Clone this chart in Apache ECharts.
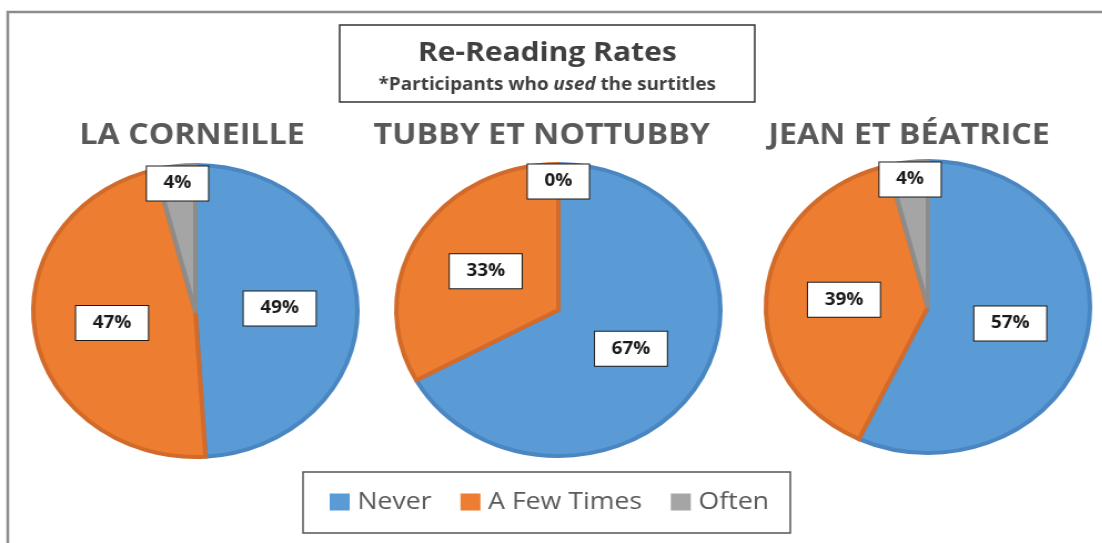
<!DOCTYPE html>
<html>
<head>
<meta charset="utf-8">
<title>Re-Reading Rates</title>
<script src="https://cdn.jsdelivr.net/npm/echarts@6/dist/echarts.min.js"></script>
<style>
  html, body { margin: 0; padding: 0; background: #fff; overflow: hidden; }
  /* the source picture is stretched sideways, so the whole chart is too */
  #main { width: 993px; height: 543px; transform: scaleX(1.11); transform-origin: 0 0; }
</style>
</head>
<body>
<div id="main"></div>
<script>
// data
const categories = ['Never', 'A Few Times', 'Often'];
const plays = ['LA CORNEILLE', 'TUBBY ET NOTTUBBY', 'JEAN ET BÉATRICE'];
const corneille = [49, 47, 4];
const tubby = [67, 33, 0];
const jean = [57, 39, 4];
const playValues = [corneille, tubby, jean];

const fills = ['#5B9BD5', '#ED7D31', '#A5A5A5'];
const borders = ['#4A86C2', '#D26B2A', '#8C8C8C'];
const FONT = '"Open Sans", "DejaVu Sans", sans-serif';

// layout of the three pies (unscaled px)
const centers = [[176, 311], [503, 310], [836, 307]];
const titleX = [173, 488, 819];
const R = 146;

const labelBox = {
  position: 'inside',
  formatter: '{c}%',
  color: '#1a1a1a',
  fontFamily: FONT,
  fontWeight: 'bold',
  fontSize: 17,
  backgroundColor: '#fff',
  borderColor: '#1a1a1a',
  borderWidth: 1,
  padding: [9, 15, 8, 15]
};

let series = [];
playValues.forEach(function (vals, p) {
  // the pie itself
  series.push({
    name: plays[p],
    type: 'pie',
    center: centers[p],
    radius: R,
    startAngle: 90,
    clockwise: true,
    silent: true,
    animation: false,
    label: labelBox,
    labelLine: { show: false },
    data: categories.map(function (c, i) {
      return {
        name: c,
        value: vals[i],
        itemStyle: {
          color: fills[i],
          borderColor: borders[i],
          borderWidth: vals[i] === 0 ? 0 : 4
        },
        label: { show: i !== 2 }
      };
    })
  });
  // see-through ring so the small "Often" label sits near the rim
  series.push({
    name: plays[p] + ' often',
    type: 'pie',
    center: centers[p],
    radius: [R * 0.72, R],
    startAngle: 90,
    clockwise: true,
    silent: true,
    animation: false,
    label: labelBox,
    labelLine: { show: false },
    itemStyle: { color: 'rgba(0,0,0,0)', borderWidth: 0 },
    data: categories.map(function (c, i) {
      return { name: c, value: vals[i], label: { show: i === 2 } };
    })
  });
});

let graphics = [
  // frame (only top and left edges show)
  { type: 'polyline', shape: { points: [[7, 560], [7, 12], [1000, 12]] },
    style: { stroke: '#8c8c8c', lineWidth: 2.5, fill: null } },
  // title box
  { type: 'rect', shape: { x: 306, y: 25, width: 374, height: 77 },
    style: { fill: '#fff', stroke: '#333', lineWidth: 1.5 } },
  { type: 'text', x: 493, y: 53,
    style: { text: 'Re-Reading Rates', align: 'center', verticalAlign: 'middle',
      font: 'bold 27px ' + FONT, fill: '#404040' } },
  { type: 'text', x: 493, y: 85,
    style: { text: '*Participants who {i|used} the surtitles', align: 'center', verticalAlign: 'middle',
      font: 'bold 17px ' + FONT, fill: '#404040',
      rich: { i: { font: 'italic bold 17px ' + FONT, fill: '#404040' } } } },
  // legend box
  { type: 'rect', shape: { x: 273, y: 472, width: 439, height: 61 },
    style: { fill: 'none', stroke: '#555', lineWidth: 1.5 } }
];
plays.forEach(function (t, p) {
  graphics.push({ type: 'text', x: titleX[p], y: 136,
    style: { text: t, align: 'center', verticalAlign: 'middle',
      font: 'bold 29px ' + FONT, fill: '#595959' } });
});

const chart = echarts.init(document.getElementById('main'));
chart.setOption({
  backgroundColor: '#fff',
  animation: false,
  legend: {
    data: categories,
    left: 297,
    top: 490,
    padding: 0,
    itemGap: 26,
    itemWidth: 18,
    itemHeight: 17,
    icon: 'rect',
    itemStyle: { borderWidth: 0 },
    textStyle: { fontFamily: FONT, fontSize: 24, color: '#595959', padding: [0, 0, 0, 2] }
  },
  graphic: graphics,
  series: series
});
</script>
</body>
</html>
